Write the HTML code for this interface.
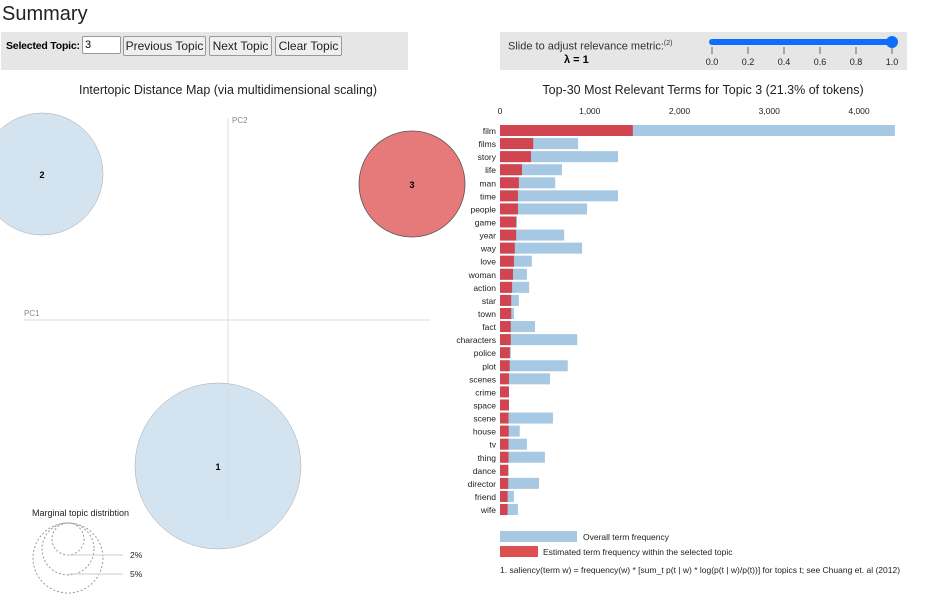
<!DOCTYPE html>
<html><head><meta charset="utf-8">
<style>
body{margin:0;width:936px;height:604px;overflow:hidden;background:#fff;font-family:"Liberation Sans",sans-serif;position:relative}
.abs{position:absolute}
button{font-family:"Liberation Sans",sans-serif;font-size:12px;background:#efefef;border:1px solid #999;border-radius:2px;height:20px;padding:0;color:#222;text-align:center}
</style></head><body>
<div class="abs" style="left:2px;top:3px;font-size:20px;color:#222">Summary</div>
<div class="abs" style="left:1px;top:32px;width:407px;height:38px;background:#e6e6e6">
 <span class="abs" style="left:5px;top:8px;font-size:10.5px;font-weight:bold;letter-spacing:-0.2px">Selected Topic:</span>
 <input class="abs" value="3" style="left:81px;top:4px;width:33px;height:16px;font-size:11px;border:1px solid #999;border-radius:2px;padding:0 2px">
 <button class="abs" style="left:122px;top:4px;width:83px">Previous Topic</button>
 <button class="abs" style="left:208px;top:4px;width:63px">Next Topic</button>
 <button class="abs" style="left:274px;top:4px;width:67px">Clear Topic</button>
</div>
<div class="abs" style="left:500px;top:32px;width:407px;height:38px;background:#e6e6e6">
 <span class="abs" style="left:8px;top:8px;font-size:11px;color:#333">Slide to adjust relevance metric:<sup style="font-size:7px">(2)</sup></span>
 <span class="abs" style="left:64px;top:22px;font-size:11px;font-weight:bold">λ = 1</span>
</div>
<svg class="abs" style="left:0;top:0" width="936" height="604">
 <g>
  <line x1="712" y1="42" x2="892" y2="42" stroke="#0d6efd" stroke-width="6" stroke-linecap="round"/>
  <circle cx="892" cy="42" r="6" fill="#0d6efd"/>
 </g>
 <g id="sl" font-size="9" fill="#222" text-anchor="middle"></g>
 <text x="228" y="94" font-size="12.5" text-anchor="middle" fill="#222">Intertopic Distance Map (via multidimensional scaling)</text>
 <text x="703" y="94" font-size="12.5" text-anchor="middle" fill="#222">Top-30 Most Relevant Terms for Topic 3 (21.3% of tokens)</text>
 <g stroke="#ddd">
  <line x1="228" y1="118" x2="228" y2="522"/><line x1="24" y1="320" x2="430" y2="320"/>
 </g>
 <text x="232" y="123" font-size="8" fill="#888">PC2</text>
 <text x="24" y="316" font-size="8" fill="#888">PC1</text>
 <g>
  <circle cx="42" cy="174" r="61" fill="#c8dcec" fill-opacity=".8" stroke="#aaa" stroke-width=".5"/>
  <text x="42" y="178" font-size="9" font-weight="bold" text-anchor="middle">2</text>
  <circle cx="412" cy="184" r="53" fill="#e67a7a" stroke="#555" stroke-width=".8"/>
  <text x="412" y="188" font-size="9" font-weight="bold" text-anchor="middle">3</text>
  <circle cx="218" cy="466" r="83" fill="#c8dcec" fill-opacity=".8" stroke="#aaa" stroke-width=".5"/>
  <text x="218" y="470" font-size="9" font-weight="bold" text-anchor="middle">1</text>
 </g>
 <g>
  <text x="32" y="516" font-size="9" fill="#222">Marginal topic distribtion</text>
  <g fill="none" stroke="#999" stroke-dasharray="2,2">
   <circle cx="68" cy="539" r="16"/><circle cx="68" cy="549" r="26"/><circle cx="68" cy="558" r="35"/>
  </g>
  <line x1="68" y1="555" x2="123" y2="555" stroke="#ccc"/><line x1="68" y1="574" x2="123" y2="574" stroke="#ccc"/>
  <text x="130" y="558" font-size="8.5" fill="#222">2%</text><text x="130" y="577" font-size="8.5" fill="#222">5%</text>
 </g>
 <g id="bars"></g>
 <g>
  <rect x="500" y="531" width="77" height="11" fill="#a6c8e2"/>
  <text x="583" y="540" font-size="8.5" fill="#222">Overall term frequency</text>
  <rect x="500" y="546" width="38" height="11" fill="#dd5050"/>
  <text x="543" y="555" font-size="8.5" fill="#222">Estimated term frequency within the selected topic</text>
  <text x="500" y="573" font-size="8.5" fill="#222">1. saliency(term w) = frequency(w) * [sum_t p(t | w) * log(p(t | w)/p(t))] for topics t; see Chuang et. al (2012)</text>
 </g>
</svg>
<script>
const terms=["film","films","story","life","man","time","people","game","year","way","love","woman","action","star","town","fact","characters","police","plot","scenes","crime","space","scene","house","tv","thing","dance","director","friend","wife"];
const overall=[4400,870,1315,690,615,1315,970,190,715,915,355,300,325,210,155,390,860,120,755,557,100,100,590,220,300,500,95,435,155,200];
const topicFreq=[1480,370,345,245,210,200,200,180,180,165,155,145,135,125,125,120,120,110,108,100,100,100,95,97,95,95,92,92,85,85];
const ticks=[0,1000,2000,3000,4000];
const sliderTicks=[0,0.2,0.4,0.6,0.8,1.0];
const NS="http://www.w3.org/2000/svg";
const xs=v=>500+v*0.08975, ys=i=>125+i*13.07;
const sx=v=>712+v*180;
function mk(t,a,p){const e=document.createElementNS(NS,t);for(const k in a)e.setAttribute(k,a[k]);p.appendChild(e);return e;}
const sl=document.getElementById('sl');
sliderTicks.forEach(v=>{
 const l=mk('line',{x1:sx(v),x2:sx(v),y1:47,y2:54,stroke:'#666'},sl);
 
 
 const t=mk('text',{x:sx(v),y:65},sl);t.textContent=v.toFixed(1);
 
 
});
const g=document.getElementById('bars');
ticks.forEach(v=>{
 const t=mk('text',{x:xs(v),y:114,'font-size':8.5,'text-anchor':'middle',fill:'#222'},g);
 t.textContent=v.toLocaleString('en-US');
 
 
});
terms.forEach((w,i)=>{
 const y=ys(i);
 const b=mk('rect',{x:500,y:y,width:xs(overall[i])-500,height:11,fill:'#a6c8e2'},g);
 
 
 const r=mk('rect',{x:500,y:y,width:xs(topicFreq[i])-500,height:11,fill:'#d0454f'},g);
 
 
 const t=mk('text',{x:496,y:y+9,'font-size':8.5,'text-anchor':'end',fill:'#222'},g);
 t.textContent=w;
 
 
});
</script>
</body></html>
